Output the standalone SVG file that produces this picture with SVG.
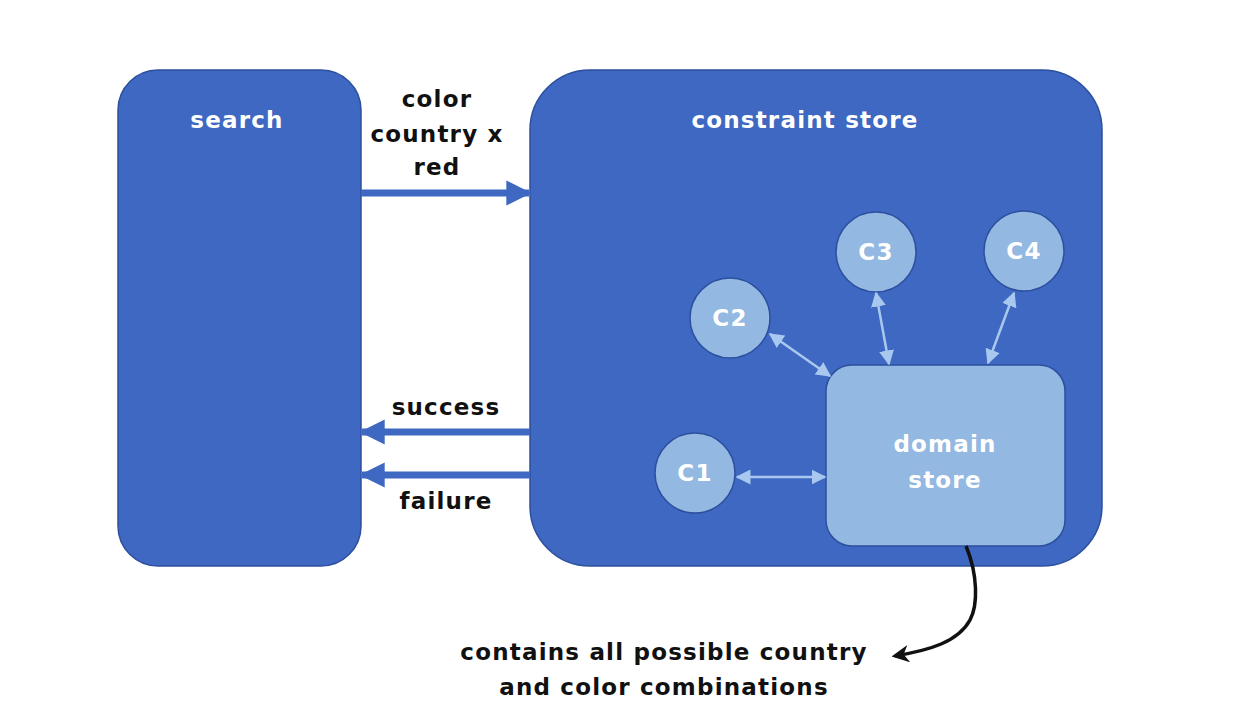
<svg xmlns="http://www.w3.org/2000/svg" width="1242" height="720" viewBox="0 0 1242 720">
<defs>
<style>
.box{fill:#3e68c1;stroke:#2c4f9e;stroke-width:1.5}
.inner{fill:#93b8e2;stroke:#2c4f9e;stroke-width:1.5}
.wt{fill:#ffffff;font-family:"DejaVu Sans",sans-serif;font-weight:bold;font-size:23px;letter-spacing:1.2px;text-anchor:middle}
.bt{fill:#111111;font-family:"DejaVu Sans",sans-serif;font-weight:bold;font-size:23px;letter-spacing:1.2px;text-anchor:middle}
.thick{stroke:#3e68c1;stroke-width:7;fill:none}
.thin{stroke:#a8c8ef;stroke-width:2.5;fill:none}
</style>
<marker id="bigArrow" viewBox="0 0 10 10" refX="9" refY="5" markerWidth="3.6" markerHeight="3.6" orient="auto-start-reverse" markerUnits="strokeWidth">
<path d="M0,0 L10,5 L0,10 z" fill="#3e68c1"/>
</marker>
<marker id="smallArrow" viewBox="0 0 10 10" refX="9" refY="5" markerWidth="6" markerHeight="6" orient="auto-start-reverse" markerUnits="strokeWidth">
<path d="M0,0 L10,5 L0,10 z" fill="#a8c8ef"/>
</marker>
<marker id="blackArrow" viewBox="0 0 10 10" refX="8" refY="5" markerWidth="5" markerHeight="5" orient="auto" markerUnits="strokeWidth">
<path d="M0,0 L10,5 L0,10 L3,5 z" fill="#111"/>
</marker>
</defs>
<rect width="1242" height="720" fill="#ffffff"/>
<g id="search">
<rect class="box" x="118" y="70" width="243" height="496" rx="40"/>
<text class="wt" x="237" y="128">search</text>
</g>
<g id="constraint-store">
<rect class="box" x="530" y="70" width="572" height="496" rx="60"/>
<text class="wt" x="805" y="128">constraint store</text>
</g>
<g id="domain-store">
<rect class="inner" x="826" y="365" width="239" height="181" rx="26"/>
<text class="wt" x="945" y="452">domain</text>
<text class="wt" x="945" y="488">store</text>
</g>
<g id="c1">
<circle class="inner" cx="695" cy="473" r="40"/>
<text class="wt" x="695" y="481">C1</text>
</g>
<g id="c2">
<circle class="inner" cx="730" cy="318" r="40"/>
<text class="wt" x="730" y="326">C2</text>
</g>
<g id="c3">
<circle class="inner" cx="876" cy="252" r="40"/>
<text class="wt" x="876" y="260">C3</text>
</g>
<g id="c4">
<circle class="inner" cx="1024" cy="251" r="40"/>
<text class="wt" x="1024" y="259">C4</text>
</g>
<g id="connectors">
<line class="thick" x1="361" y1="193" x2="529" y2="193" marker-end="url(#bigArrow)"/>
<line class="thick" x1="530" y1="432" x2="362" y2="432" marker-end="url(#bigArrow)"/>
<line class="thick" x1="530" y1="475" x2="362" y2="475" marker-end="url(#bigArrow)"/>
<line class="thin" x1="737" y1="477" x2="825" y2="477" marker-start="url(#smallArrow)" marker-end="url(#smallArrow)"/>
<line class="thin" x1="770" y1="334" x2="830" y2="376" marker-start="url(#smallArrow)" marker-end="url(#smallArrow)"/>
<line class="thin" x1="876" y1="293" x2="889" y2="364" marker-start="url(#smallArrow)" marker-end="url(#smallArrow)"/>
<line class="thin" x1="1014" y1="293" x2="988" y2="363" marker-start="url(#smallArrow)" marker-end="url(#smallArrow)"/>
<path d="M966,546 C978,575 978,605 970,620 C958,642 930,650 895,656" fill="none" stroke="#111" stroke-width="3.5" marker-end="url(#blackArrow)"/>
<text class="bt" x="437" y="107">color</text>
<text class="bt" x="437" y="142">country x</text>
<text class="bt" x="437" y="175">red</text>
<text class="bt" x="446" y="415">success</text>
<text class="bt" x="446" y="509">failure</text>
</g>
<g id="note">
<text class="bt" x="664" y="660">contains all possible country</text>
<text class="bt" x="664" y="695">and color combinations</text>
</g>
</svg>
